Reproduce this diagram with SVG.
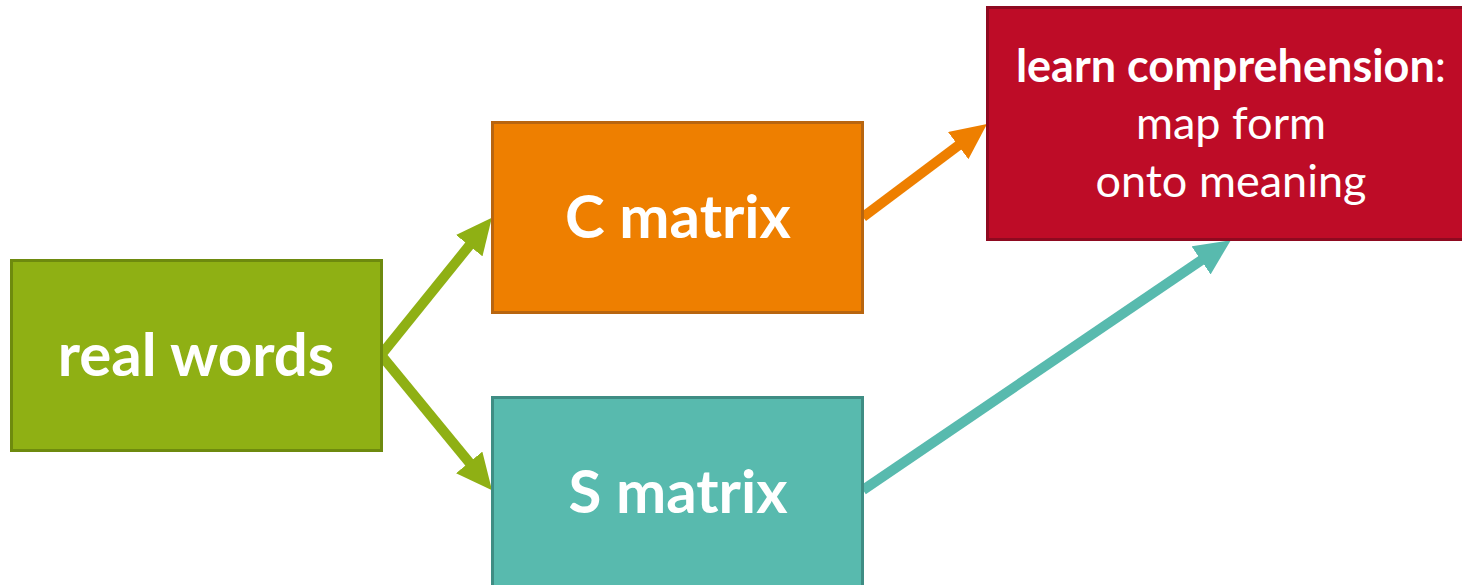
<svg xmlns="http://www.w3.org/2000/svg" width="1462" height="585" viewBox="0 0 1462 585">
  <style>
    .lbl { font-family: Lato, "Open Sans", "Liberation Sans", sans-serif; fill: #ffffff; text-anchor: middle; }
    .big { font-size: 60px; font-weight: bold; }
    .mid { font-size: 45px; }
    .b { font-weight: bold; }
    .conn { fill: none; stroke-width: 10; stroke-linecap: butt; }
  </style>
  <defs>
    <marker id="ahGreen" viewBox="0 0 36 34" refX="6" refY="17" markerWidth="36" markerHeight="34" markerUnits="userSpaceOnUse" orient="auto">
      <path d="M0,0 L36,17 L0,34 z" fill="#8FB014"/>
    </marker>
    <marker id="ahOrange" viewBox="0 0 36 34" refX="6" refY="17" markerWidth="36" markerHeight="34" markerUnits="userSpaceOnUse" orient="auto">
      <path d="M0,0 L36,17 L0,34 z" fill="#EE7F00"/>
    </marker>
    <marker id="ahTeal" viewBox="0 0 36 34" refX="6" refY="17" markerWidth="36" markerHeight="34" markerUnits="userSpaceOnUse" orient="auto">
      <path d="M0,0 L36,17 L0,34 z" fill="#58BAAE"/>
    </marker>
  </defs>

  <rect width="1462" height="585" fill="#ffffff"/>

  <g id="connectors">
    <path class="conn" stroke="#8FB014" d="M381,355 L473,241" marker-end="url(#ahGreen)"/>
    <path class="conn" stroke="#8FB014" d="M381,355 L473,467" marker-end="url(#ahGreen)"/>
    <path class="conn" stroke="#EE7F00" d="M863,217 L963,142" marker-end="url(#ahOrange)"/>
    <path class="conn" stroke="#58BAAE" d="M863,490 L1206,257" marker-end="url(#ahTeal)"/>
  </g>

  <g id="real-words">
    <rect x="11.5" y="260.5" width="370" height="190" fill="#8FB014" stroke="#6E8A0E" stroke-width="3"/>
    <text class="lbl big" x="196" y="376">real words</text>
  </g>

  <g id="c-matrix">
    <rect x="492.5" y="122.5" width="370" height="190" fill="#EE7F00" stroke="#B8650F" stroke-width="3"/>
    <text class="lbl big" x="678" y="238">C matrix</text>
  </g>

  <g id="s-matrix">
    <rect x="492.5" y="397.5" width="370" height="200" fill="#58BAAE" stroke="#3F8D84" stroke-width="3"/>
    <text class="lbl big" x="678" y="513">S matrix</text>
  </g>

  <g id="comprehension">
    <rect x="987.5" y="7.5" width="490" height="232" fill="#BE0C27" stroke="#8E0A20" stroke-width="3"/>
    <text class="lbl mid" x="1231" y="82"><tspan class="b">learn comprehension</tspan>:</text>
    <text class="lbl mid" x="1231" y="139">map form</text>
    <text class="lbl mid" x="1231" y="197">onto meaning</text>
  </g>
</svg>
